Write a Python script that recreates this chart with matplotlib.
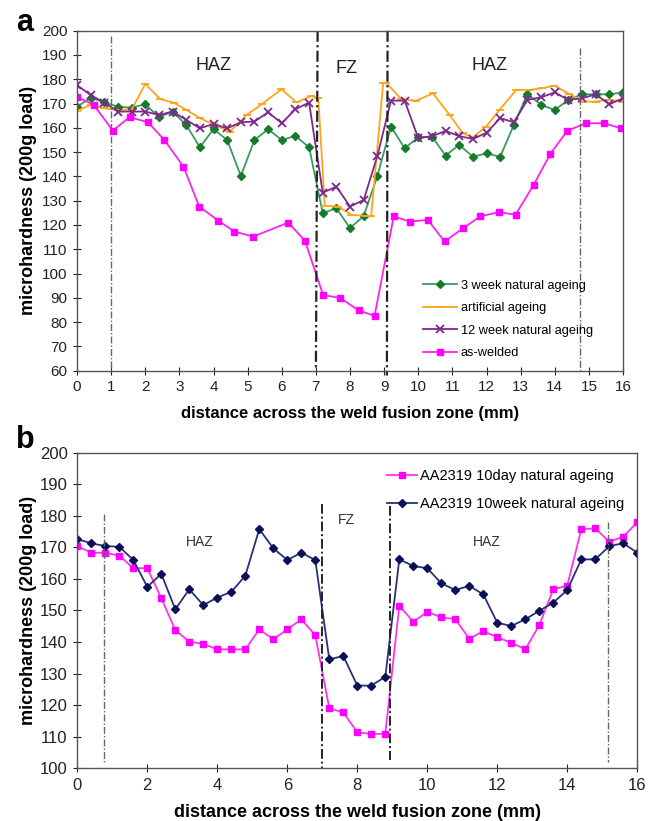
import numpy as np
import matplotlib
matplotlib.use('Agg')
from matplotlib import pyplot as plt

plt.rcParams['font.family'] = ['Liberation Sans', 'DejaVu Sans']

# ---- panel a ----
x_3week = np.arange(0, 16.01, 0.4)
hv_3week = [168.7, 172.4, 170.5, 168.7, 168.3, 169.7, 164.4, 166.7, 161.2, 152.0,
            159.5, 155.0, 140.2, 155.0, 159.4, 155.0, 156.7, 152.0, 124.9, 126.9,
            118.7, 123.7, 140.2, 160.5, 151.6, 156.1, 156.4, 148.6, 153.0, 148.1,
            149.5, 148.1, 161.2, 174.0, 169.4, 167.4, 171.5, 173.8, 173.8, 173.8, 174.6]

x_12week = np.arange(0, 16.01, 0.4)
hv_12week = [177.6, 173.5, 170.4, 166.7, 166.7, 166.7, 165.3, 166.7, 163.3, 159.8,
             161.6, 159.8, 162.3, 162.6, 166.4, 161.9, 167.7, 170.4, 133.3, 135.8,
             127.6, 130.3, 148.4, 171.2, 171.2, 155.7, 156.6, 158.7, 156.6, 155.4,
             158.0, 164.0, 162.3, 171.5, 172.6, 174.6, 171.5, 172.2, 173.8, 169.7, 172.2]

x_art = [0, 0.4, 0.8, 1.2, 1.6, 2.0, 2.44, 2.83, 3.2, 3.6, 4.0, 4.48, 4.97, 5.41,
         5.99, 6.43, 6.87, 7.07, 7.26, 7.65, 8.04, 8.48, 8.62, 8.97, 9.06, 9.5,
         9.94, 10.43, 10.92, 11.3, 11.6, 11.99, 12.38, 12.87, 13.25, 13.64, 13.98,
         14.42, 14.81, 15.2, 15.57, 16.0]
hv_art = [167.0, 169.5, 168.0, 167.4, 167.5, 178.1, 171.8, 170.4, 167.4, 164.0,
          161.4, 158.4, 165.3, 169.7, 175.9, 170.5, 173.1, 172.2, 127.9, 127.6,
          124.2, 123.7, 123.5, 178.3, 178.6, 171.8, 171.2, 174.2, 165.3, 157.8,
          156.1, 160.5, 167.4, 175.6, 175.6, 176.3, 177.4, 174.0, 170.8, 170.8,
          171.6, 170.8]

x_welded = [0, 0.49, 1.05, 1.54, 2.08, 2.56, 3.12, 3.58, 4.14, 4.61, 5.16, 6.19,
            6.68, 7.21, 7.72, 8.25, 8.72, 9.28, 9.75, 10.28, 10.77, 11.32, 11.81,
            12.36, 12.85, 13.38, 13.87, 14.37, 14.91, 15.45, 15.94]
hv_welded = [172.8, 169.4, 158.9, 164.4, 162.3, 155.0, 144.0, 127.6, 121.8, 117.3,
             115.2, 121.0, 113.5, 91.2, 89.9, 84.8, 82.6, 123.5, 121.4, 122.1,
             113.2, 118.7, 123.5, 125.3, 124.2, 136.5, 149.3, 158.8, 161.9, 161.9,
             159.8]

# ---- panel b ----
x_b = np.arange(0, 16.01, 0.4)
hv_10day = [170.4, 168.3, 168.3, 167.4, 163.4, 163.4, 153.9, 143.8, 140.1, 139.4,
            137.7, 137.7, 137.7, 144.0, 140.9, 144.0, 147.2, 142.2, 119.0, 117.7,
            111.4, 110.9, 110.9, 151.5, 146.4, 149.6, 147.8, 147.3, 141.0, 143.5,
            141.5, 139.8, 137.7, 145.4, 156.7, 157.9, 175.8, 176.0, 171.8, 173.4, 178.0]
hv_10week = [172.6, 171.3, 170.4, 170.2, 166.0, 157.5, 161.6, 150.4, 156.7, 151.7,
             154.1, 155.9, 161.0, 175.8, 169.7, 166.0, 168.3, 166.0, 134.5, 135.6,
             126.2, 126.2, 129.0, 166.2, 164.1, 163.4, 158.6, 156.5, 157.8, 155.1,
             146.1, 145.1, 147.2, 149.9, 152.5, 156.5, 166.2, 166.2, 170.4, 171.3, 168.3]

dashdot = (0, (5, 1.5, 1, 1.5))

fig = plt.figure(figsize=(6.55, 8.21), dpi=100)

axa = fig.add_axes([0.1176, 0.5485, 0.8336, 0.4141])
axa.plot(x_3week, hv_3week, color='#3a9a60', marker='D', ms=4, mfc='#157a2a', mec='#157a2a',
         lw=1.3, label='3 week natural ageing')
axa.plot(x_art, hv_art, color='#ffa31a', marker='_', ms=6, mew=1.3, lw=1.3,
         label='artificial ageing')
axa.plot(x_12week, hv_12week, color='#7b2a8c', marker='x', ms=5.5, mew=1.3, lw=1.3,
         label='12 week natural ageing')
axa.plot(x_welded, hv_welded, color='#ff22ee', marker='s', ms=5, mfc='#ff00ff', mec='#ff00ff',
         lw=1.3, label='as-welded')

axa.plot([1, 1], [198, 60], color='#666666', ls=dashdot, lw=1.0)
axa.plot([7.05, 7.0], [200, 60], color='#222222', ls=dashdot, lw=1.6)
axa.plot([9.1, 9.08], [200, 58], color='#222222', ls=dashdot, lw=1.6, clip_on=False)
axa.plot([14.75, 14.75], [193, 60], color='#666666', ls=dashdot, lw=1.0)

axa.text(4.0, 185.5, 'HAZ', fontsize=13, ha='center', va='center', color='#222222')
axa.text(7.9, 184.5, 'FZ', fontsize=13, ha='center', va='center', color='#222222')
axa.text(12.1, 185.5, 'HAZ', fontsize=13, ha='center', va='center', color='#222222')

axa.set_xlim(0, 16)
axa.set_ylim(60, 200)
axa.set_xticks(range(0, 17))
axa.set_yticks(range(60, 201, 10))
axa.set_xlabel('distance across the weld fusion zone (mm)', fontsize=12, fontweight='bold')
axa.set_ylabel('microhardness (200g load)', fontsize=13, fontweight='bold')
axa.xaxis.set_label_coords(0.5, -0.104)
axa.yaxis.set_label_coords(-0.073, 0.5)
axa.tick_params(labelsize=11)
axa.legend(loc='lower left', bbox_to_anchor=(0.613, 0.0), frameon=False, fontsize=9.2,
           handlelength=2.65, labelspacing=0.82, handletextpad=0.3)

axb = fig.add_axes([0.118, 0.0642, 0.855, 0.3844])
axb.plot(x_b, hv_10day, color='#ff33ee', marker='s', ms=5, mfc='#ff00ff', mec='#ff00ff',
         lw=1.3, label='AA2319 10day natural ageing')
axb.plot(x_b, hv_10week, color='#2a2f7a', marker='D', ms=4, mfc='#0a0f5a', mec='#0a0f5a',
         lw=1.3, label='AA2319 10week natural ageing')

axb.plot([0.77, 0.77], [180.5, 102], color='#666666', ls=dashdot, lw=1.0)
axb.plot([6.98, 6.98], [183.7, 100], color='#222222', ls=dashdot, lw=1.4)
axb.plot([8.93, 8.93], [183, 102.5], color='#222222', ls=dashdot, lw=1.4)
axb.plot([15.17, 15.17], [178, 102], color='#666666', ls=dashdot, lw=1.0)

axb.text(3.5, 171.8, 'HAZ', fontsize=10, ha='center', va='center', color='#333333')
axb.text(7.7, 178.7, 'FZ', fontsize=10, ha='center', va='center', color='#333333')
axb.text(11.7, 171.8, 'HAZ', fontsize=10, ha='center', va='center', color='#333333')

axb.set_xlim(0, 16)
axb.set_ylim(100, 200)
axb.set_xticks(range(0, 17, 2))
axb.set_yticks(range(100, 201, 10))
axb.set_xlabel('distance across the weld fusion zone (mm)', fontsize=13, fontweight='bold')
axb.set_ylabel('microhardness (200g load)', fontsize=13, fontweight='bold')
axb.xaxis.set_label_coords(0.5, -0.114)
axb.yaxis.set_label_coords(-0.072, 0.5)
axb.tick_params(labelsize=12)
axb.legend(loc='upper right', bbox_to_anchor=(1.0, 0.99), frameon=False, fontsize=10.5,
           handlelength=2.05, labelspacing=0.95, handletextpad=0.2)

for ax in (axa, axb):
    ax.tick_params(direction='inout', length=6, colors='#222222', pad=4)
    for s in ax.spines.values():
        s.set_color('#555555')
        s.set_linewidth(1.0)

fig.text(0.038, 0.972, 'a', fontsize=22, fontweight='bold', ha='center', va='center')
fig.text(0.038, 0.464, 'b', fontsize=22, fontweight='bold', ha='center', va='center')

fig.savefig('out.png', dpi=100)
